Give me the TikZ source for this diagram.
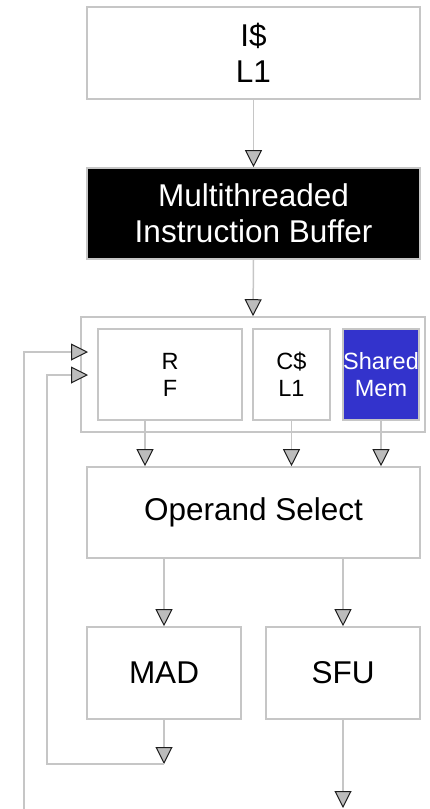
\documentclass[tikz,border=0pt]{standalone}
\usepackage{fontspec}
\setmainfont{Liberation Sans}
\usetikzlibrary{arrows.meta,calc}

\definecolor{linegray}{RGB}{198,198,198}
\definecolor{tipgray}{RGB}{188,188,188}
\definecolor{tipline}{RGB}{30,30,30}
\definecolor{memblue}{RGB}{51,51,204}

\tikzset{
  x=1pt, y=-1pt,
  unitbox/.style={draw=linegray, line width=1.6pt, fill=white, inner sep=0pt,
    align=center, font=\fontsize{31.5pt}{36pt}\selectfont},
  smallbox/.style={unitbox, font=\fontsize{23.5pt}{27pt}\selectfont},
  conn/.style={draw=linegray, line width=1.5pt},
  arr/.style={conn, -{Triangle[length=17pt,width=17pt,color=tipline,fill=tipgray,line width=1pt]}},
}

\begin{document}
\begin{tikzpicture}
\useasboundingbox (0,0) rectangle (430,809);

% instruction fetch
\node[unitbox, minimum width=333pt, minimum height=92pt] (icache) at (253.5,53) {I\$\\L1};
\node[unitbox, fill=black, text=white, minimum width=333pt, minimum height=91pt] (mtib) at (253.5,213.5) {Multithreaded\\Instruction Buffer};

% operand storage group
\node[draw=linegray, line width=1.6pt, minimum width=344pt, minimum height=115pt, inner sep=0pt] (store) at (253,374.5) {};
\node[smallbox, minimum width=144pt, minimum height=91pt] (rf) at (170,374.5) {R\\F};
\node[smallbox, minimum width=77pt, minimum height=91pt] (cc) at (291.5,374.5) {C\$\\L1};
\node[smallbox, fill=memblue, text=white, minimum width=76pt, minimum height=91pt] (smem) at (381,374.5) {Shared\\Mem};

% operand select and execution units
\node[unitbox, minimum width=333pt, minimum height=91pt] (opsel) at (253.5,512.5) {Operand Select};
\node[unitbox, minimum width=154pt, minimum height=92pt] (mad) at (164,673) {MAD};
\node[unitbox, minimum width=154pt, minimum height=92pt] (sfu) at (343,673) {SFU};

% free ends of the output and feedback paths
\coordinate (madout) at (164,764);
\coordinate (sfuout) at (343,808);
\coordinate (fbinner) at (47,375);
\coordinate (fbinnertip) at (88,375);
\coordinate (fbouter) at (24,809);
\coordinate (fboutertip) at (88,352);

% forward flow
\draw[arr] (icache.south) -- (mtib.north);
\draw[arr] (mtib.south) -- (store.north);
\draw[arr] ([xshift=-25pt]rf.south) -- ([xshift=-25pt]rf.south |- opsel.north);
\draw[arr] (cc.south) -- (cc.south |- opsel.north);
\draw[arr] (smem.south) -- (smem.south |- opsel.north);
\draw[arr] (opsel.south -| mad.north) -- (mad.north);
\draw[arr] (opsel.south -| sfu.north) -- (sfu.north);
\draw[arr] (mad.south) -- (madout);
\draw[arr] (sfu.south) -- (sfuout);

% write-back loops
\draw[arr] (madout) -| (fbinner) -- (fbinnertip);
\draw[arr] (fbouter) |- (fboutertip);
\end{tikzpicture}
\end{document}
